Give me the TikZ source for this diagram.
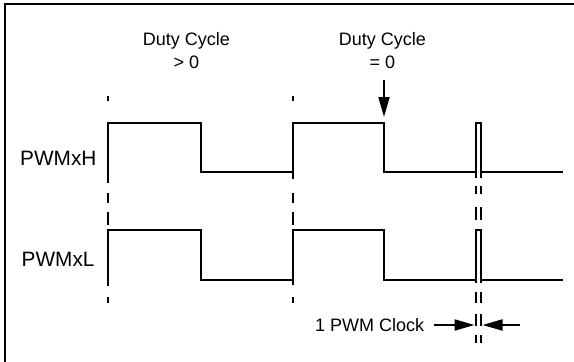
\documentclass[tikz,border=0pt]{standalone}
\usepackage{fontspec}
\setmainfont{Liberation Sans}
\usetikzlibrary{arrows.meta}

\tikzset{
  sig/.style={line width=2pt},
  guide/.style={line width=2pt},
  lbl/.style={inner sep=0pt, font=\fontsize{18}{22}\selectfont},
  siglbl/.style={inner sep=0pt, anchor=base west, font=\fontsize{20.8}{24}\selectfont},
  ptr/.style={line width=2pt, -{Triangle[length=20pt,width=11pt]}}
}

\begin{document}
\begin{tikzpicture}[x=1pt,y=-1pt]
        \newcommand{\pwmfighhigh}{123}
        \newcommand{\pwmfighlow}{172}
        \newcommand{\pwmfiglhigh}{230}
        \newcommand{\pwmfigllow}{280}
        \newcommand{\pwmfigedgea}{108}
        \newcommand{\pwmfigedgeb}{201}
        \newcommand{\pwmfigedgec}{293}
        \newcommand{\pwmfigedged}{384}
        \newcommand{\pwmfigglitchl}{476}
        \newcommand{\pwmfigglitchr}{481}
        \newcommand{\pwmfiglineend}{563}
        \useasboundingbox (0,0) rectangle (574,362);
        % frame
        \draw[line width=2pt] (5,362) -- (5,4) -- (574,4);
        % dashed guides
        \foreach \x in {\pwmfigedgea,\pwmfigedgec}
            \foreach \ya/\yb in {96/101,193/203,212/225,297/303}
                \draw[guide] (\x,\ya) -- (\x,\yb);
        \foreach \x in {\pwmfigglitchl,\pwmfigglitchr}
            \foreach \ya/\yb in {186/194,207/220,292/303,314/326,335/343}
                \draw[guide] (\x,\ya) -- (\x,\yb);
        % PWMxH
        \draw[sig] (\pwmfigedgea,183) -- (\pwmfigedgea,\pwmfighhigh) -- (\pwmfigedgeb,\pwmfighhigh) -- (\pwmfigedgeb,\pwmfighlow) -- (\pwmfigedgec,\pwmfighlow);
        \draw[sig] (\pwmfigedgec,179) -- (\pwmfigedgec,\pwmfighhigh) -- (\pwmfigedged,\pwmfighhigh) -- (\pwmfigedged,\pwmfighlow) -- (\pwmfigglitchl,\pwmfighlow);
        \draw[sig] (\pwmfigglitchl,178) -- (\pwmfigglitchl,\pwmfighhigh) -- (\pwmfigglitchr,\pwmfighhigh) -- (\pwmfigglitchr,178);
        \draw[sig] (\pwmfigglitchr,\pwmfighlow) -- (\pwmfiglineend,\pwmfighlow);
        % PWMxL
        \draw[sig] (\pwmfigedgea,286) -- (\pwmfigedgea,\pwmfiglhigh) -- (\pwmfigedgeb,\pwmfiglhigh) -- (\pwmfigedgeb,\pwmfigllow) -- (\pwmfigedgec,\pwmfigllow);
        \draw[sig] (\pwmfigedgec,285) -- (\pwmfigedgec,\pwmfiglhigh) -- (\pwmfigedged,\pwmfiglhigh) -- (\pwmfigedged,\pwmfigllow) -- (\pwmfigglitchl,\pwmfigllow);
        \draw[sig] (\pwmfigglitchl,283) -- (\pwmfigglitchl,\pwmfiglhigh) -- (\pwmfigglitchr,\pwmfiglhigh) -- (\pwmfigglitchr,283);
        \draw[sig] (\pwmfigglitchr,\pwmfigllow) -- (\pwmfiglineend,\pwmfigllow);
        % labels
        \node[siglbl] (pwmh) at (20,165) {PWMxH};
        \node[siglbl] (pwml) at (21.5,266.7) {PWMxL};
        \node[lbl, anchor=base] (dcposa) at (186.5,45) {Duty Cycle};
        \node[lbl, anchor=base] (dcposb) at (186.5,68.3) {> 0};
        \node[lbl, anchor=base] (dczeroa) at (382.5,45) {Duty Cycle};
        \node[lbl, anchor=base] (dczerob) at (382.5,68.3) {= 0};
        \node[lbl, anchor=base west] (clk) at (315,331.7) {1 PWM Clock};
        % pointers
        \coordinate (dctail) at (\pwmfigedged,80);
        \coordinate (dctip) at (\pwmfigedged,117);
        \draw[ptr] (dctail) -- (dctip);
        \coordinate (clkltail) at (434,325);
        \coordinate (clkltip) at (474.5,325);
        \coordinate (clkrtail) at (520,325);
        \coordinate (clkrtip) at (482.5,325);
        \draw[ptr] (clkltail) -- (clkltip);
        \draw[ptr] (clkrtail) -- (clkrtip);
\end{tikzpicture}
\end{document}
